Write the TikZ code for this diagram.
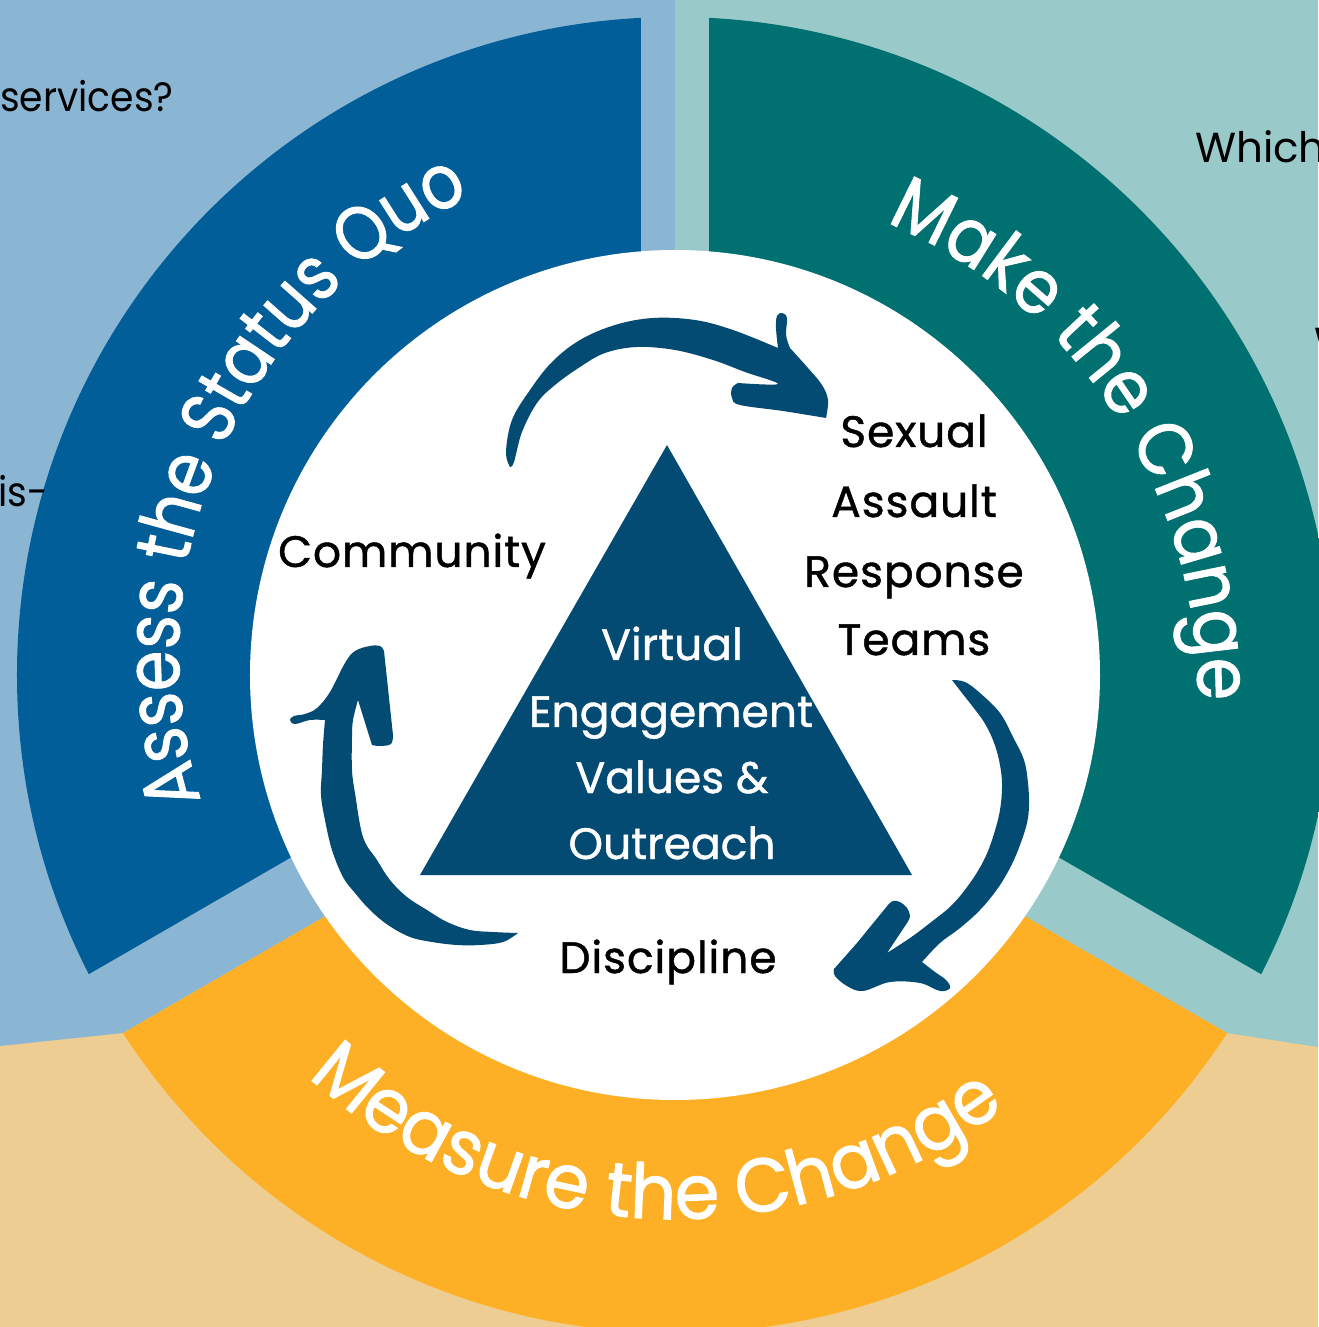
\documentclass[tikz,border=0pt]{standalone}
\usepackage{fontspec}
\setmainfont{Poppins}
\newfontfamily\lblfont[LetterSpace=2,FakeBold=1]{Poppins}
\newfontfamily\trifont[LetterSpace=0,FakeBold=1]{Poppins}
\newfontfamily\arcfont[FakeBold=1.2,FakeStretch=0.86]{Poppins}
\newfontfamily\arcfontm[FakeBold=1.2,FakeStretch=0.9]{Poppins}
\newfontfamily\arcfontw[FakeBold=1.2,FakeStretch=0.95]{Poppins}
\newfontfamily\sidefont{Poppins}
\newfontfamily\sidefontn[FakeStretch=0.92]{Poppins}
\usetikzlibrary{decorations.text}
\definecolor{lblue}{HTML}{8AB6D4}
\definecolor{dblue}{HTML}{025E99}
\definecolor{lteal}{HTML}{9AC9CA}
\definecolor{dteal}{HTML}{007070}
\definecolor{ltan}{HTML}{EDCD91}
\definecolor{orng}{HTML}{FDB025}
\definecolor{navy}{HTML}{044B74}
\tikzset{
  lbl/.style={font=\lblfont\fontsize{44}{50}\selectfont, text=black, inner sep=0pt, anchor=base},
  trilbl/.style={font=\trifont\fontsize{44}{50}\selectfont, text=white, inner sep=0pt, anchor=base},
  side/.style={font=\sidefont\fontsize{42}{46}\selectfont, text=black, inner sep=0pt, anchor=base west},
  siden/.style={side, font=\sidefontn\fontsize{41}{46}\selectfont},
  arrowfill/.style={fill=navy},
  arctext/.style={decorate, decoration={text along path, text color=white, text align=center, text={#1}}},
}
\begin{document}
\begin{tikzpicture}[x=1pt,y=1pt]
\useasboundingbox (-675,-652) rectangle (643,675);
% background
\fill[ltan] (-675,-652) rectangle (643,675);
\fill[lblue] (-675,675) -- (0,675) -- (0,-39.3) -- (-552,-358) -- (-675,-371) -- cycle;
\fill[lteal] (0,675) -- (643,675) -- (643,-372) -- (552,-358) -- (0,-39.3) -- cycle;
% ring sectors
\begin{scope}
\clip (0,0) circle (658);
\fill[dblue] (-34.03,19.65) -- (-34.03,1520) -- (-1333,770) -- (-1333,-730.4) -- cycle;
\fill[dteal] (34.03,19.65) -- (34.03,1520) -- (1333,770) -- (1333,-730.4) -- cycle;
\fill[orng] (0,-39.3) -- (-1299,-789.3) -- (0,-1539.3) -- (1299,-789.3) -- cycle;
\end{scope}
\fill[white] (0,0) circle (425);
% arc texts (slowly widening baseline)
\path[arctext={|\arcfont\fontsize{76}{80}\selectfont|Assess the Status Quo}]
  plot[domain=0:1, samples=120, variable=\t, smooth] ({235.6-160*\t}:{492-0.368*(45.6-160*\t)});
\path[arctext={|\arcfontm\fontsize{76}{80}\selectfont|Make the Change}]
  plot[domain=0:1, samples=120, variable=\t, smooth] ({112.8-160*\t}:{500-0.355*(49.8-160*\t)});
\path[arctext={|\arcfontw\fontsize{76}{80}\selectfont|Measure the Change}]
  (187.5:544) arc[start angle=187.5, end angle=347.5, radius=544];
% image-coordinate scope
\begin{scope}[shift={(-675,675)}, yscale=-1]
\fill[navy] (667,445) -- (420,875) -- (912,875) -- cycle;
% arrow top
\fill[arrowfill] plot[smooth,tension=0.6] coordinates {(510,467) (506,452) (512,420) (530,390) (552,362) (580,340) (615,325) (653,318) (695,320) (733,330) (778,348)}
 -- plot[smooth,tension=0.6] coordinates {(778,348) (776,328) (777,316) (782,313) (787,318) (786,335) (790,348)}
 -- plot[smooth,tension=0.6] coordinates {(790,348) (808,368) (822,385) (828,400) (826,418)}
 -- plot[smooth,tension=0.6] coordinates {(826,418) (783,411) (740,405) (732,398) (732,388) (738,383)}
 -- plot[smooth,tension=0.6] coordinates {(738,383) (778,384) (745,372) (713,360) (675,350) (637,347) (605,353) (580,367) (555,385) (537,403) (522,432) (514,462) (510,467)} -- cycle;
% arrow right
\fill[arrowfill] plot[smooth,tension=0.6] coordinates {(952,680) (965,682) (980,693) (1000,713) (1013,737) (1024,760) (1028,783) (1029,805) (1027,823) (1020,845) (1011,866) (998,888) (980,910) (960,928) (940,943) (922,962)}
 -- plot[smooth,tension=0.6] coordinates {(922,962) (935,972) (946,980) (950,988) (940,991) (920,983) (890,982) (863,991) (847,986) (835,976) (834,969)}
 -- (857,943) -- plot[smooth,tension=0.6] coordinates {(888,905) (893,901) (900,902) (907,908) (910,916) (907,923)}
 -- (887,953)
 -- plot[smooth,tension=0.6] coordinates {(887,953) (910,938) (930,923) (952,905) (970,883) (984,860) (993,837) (1000,810) (1002,783) (999,760) (993,740) (984,722) (973,707) (962,693) (952,680)} -- cycle;
% arrow left
\fill[arrowfill] plot[smooth,tension=0.6] coordinates {(518,933) (503,942) (480,945) (457,945) (432,942) (410,937) (388,925) (370,910) (355,893) (343,877) (332,850) (325,820) (321,795) (322,770) (323,745) (325,720)}
 -- plot[smooth,tension=0.6] coordinates {(325,720) (310,720) (295,724) (290,720) (294,716) (305,714) (317,708) (330,692) (345,663) (355,651) (370,646) (380,646) (384,651)}
 -- (393,735) -- plot[smooth,tension=0.6] coordinates {(393,735) (391,744) (380,746) (372,745)} -- (358,700)
 -- plot[smooth,tension=0.6] coordinates {(358,700) (353,720) (352,737) (352,770) (355,793) (363,837) (377,860) (390,880) (407,897) (427,910) (447,922) (470,930) (493,932) (518,933)} -- cycle;
% labels
\node[lbl] (community) at (412,567) {Community};
\node[lbl] (sar1) at (914,447) {Sexual};
\node[lbl] (sar2) at (914,517) {Assault};
\node[lbl] (sar3) at (914,587) {Response};
\node[lbl] (sar4) at (914,655) {Teams};
\node[trilbl] (tri1) at (672,660) {Virtual};
\node[trilbl] (tri2) at (671,727) {Engagement};
\node[trilbl] (tri3) at (672,793) {Values \&};
\node[trilbl] (tri4) at (672,859) {Outreach};
\node[lbl] (discipline) at (668,973) {Discipline};
% side texts
\node[siden] (services) at (0,112) {services?};
\node[siden] (isdash) at (-2,507) {is-};
\node[side] (which) at (1195,163) {Which};
\node[side] (wfrag) at (1314,358) {W};
\end{scope}
\end{tikzpicture}
\end{document}
